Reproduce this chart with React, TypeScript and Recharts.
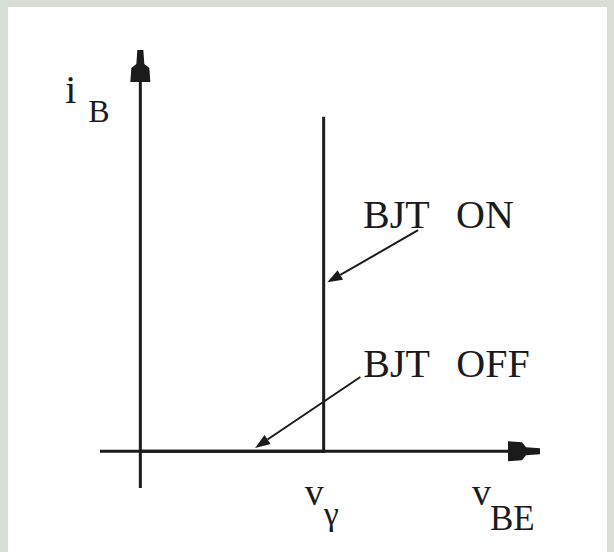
import { LineChart, Line, XAxis, YAxis, ReferenceLine, ReferenceDot } from 'recharts'

// axis ranges (vγ = 1, max iB shown = 1)
const vRange: [number, number] = [-0.22, 2.18]
const iRange: [number, number] = [-0.11, 1.2]

// input characteristic: iB stays 0 below vγ, then rises vertically
const vBE = [0, 1, 1]
const iB = [0, 0, 1]

// annotations: text, arrow start, arrow tip
const noteText = ['BJT ON', 'BJT OFF']
const noteFrom = [[1.515, 0.661], [1.2, 0.222]]
const noteTo = [[1.02, 0.505], [0.626, 0.01]]

// axis labels: main letter, subscript, anchor point
const labelMain = ['i', 'v', 'v']
const labelSub = ['B', 'γ', 'BE']
const labelAt = [[0, 1.2], [1, 0], [2.18, 0]]

const curve = vBE.map((v, i) => ({ vBE: v, iB: iB[i] }))

const INK = '#1b1b1b'
const FONT = 'Liberation Serif'

// pixel offsets of the label glyphs from their anchor
const labelOffsets = [
  { dx: -75, dy: 53, size: 40, sdx: -52, sdy: 72, sub: 32 },
  { dx: -19, dy: 54, size: 38, sdx: 0, sdy: 74, sub: 34 },
  { dx: -68, dy: 54, size: 38, sdx: -50, sdy: 79, sub: 35 },
]
const noteOffsets = [{ dx: -55, dy: -2 }, { dx: 3, dy: 0 }]

const AxisArrow = (p: any) => {
  const { x1, y1, x2, y2 } = p
  const ang = (Math.atan2(y2 - y1, x2 - x1) * 180) / Math.PI
  return (
    <g>
      <line x1={x1} y1={y1} x2={x2} y2={y2} stroke={INK} strokeWidth={3} />
      <polygon
        transform={`translate(${x2},${y2}) rotate(${ang})`}
        points="0,-3 -14,-4 -18,-9 -32,-10 -32,10 -18,9 -14,4 0,3"
        fill={INK}
      />
    </g>
  )
}

const NoteArrow = (p: any) => {
  const { x1, y1, x2, y2 } = p
  const a = Math.atan2(y2 - y1, x2 - x1)
  const len = 15
  const half = 5.5
  const bx = x2 - len * Math.cos(a)
  const by = y2 - len * Math.sin(a)
  const px = -Math.sin(a) * half
  const py = Math.cos(a) * half
  return (
    <g>
      <line x1={x1} y1={y1} x2={bx} y2={by} stroke={INK} strokeWidth={2} />
      <polygon points={`${x2},${y2} ${bx + px},${by + py} ${bx - px},${by - py}`} fill={INK} />
    </g>
  )
}

export default function App() {
  return (
    <div style={{ position: 'fixed', left: 0, top: 0, width: 614, height: 552, background: '#d8ddd5' }}>
      <div style={{ position: 'absolute', left: 8, top: 7, width: 599, height: 545, background: '#fff' }} />
      <div style={{ position: 'absolute', left: 0, top: 0, fontFamily: FONT }}>
        <LineChart
          width={614}
          height={552}
          margin={{ top: 50, right: 74, bottom: 64, left: 100 }}
          style={{ fontFamily: FONT }}
        >
          <XAxis type="number" dataKey="vBE" domain={vRange} allowDataOverflow hide />
          <YAxis type="number" dataKey="iB" domain={iRange} allowDataOverflow hide />

          <ReferenceLine
            segment={[{ x: vRange[0], y: 0 }, { x: vRange[1], y: 0 }]}
            ifOverflow="visible"
            shape={AxisArrow}
          />
          <ReferenceLine
            segment={[{ x: 0, y: iRange[0] }, { x: 0, y: iRange[1] }]}
            ifOverflow="visible"
            shape={AxisArrow}
          />

          <Line
            data={curve}
            dataKey="iB"
            type="linear"
            stroke={INK}
            strokeWidth={3}
            dot={false}
            isAnimationActive={false}
          />

          {noteText.map((t, i) => (
            <ReferenceLine
              key={'arrow' + t}
              segment={[
                { x: noteFrom[i][0], y: noteFrom[i][1] },
                { x: noteTo[i][0], y: noteTo[i][1] },
              ]}
              ifOverflow="visible"
              shape={NoteArrow}
            />
          ))}
          {noteText.map((t, i) => (
            <ReferenceDot
              key={'note' + t}
              x={noteFrom[i][0]}
              y={noteFrom[i][1]}
              r={1}
              ifOverflow="visible"
              shape={(p: any) => (
                <text
                  x={p.cx + noteOffsets[i].dx}
                  y={p.cy + noteOffsets[i].dy}
                  fill={INK}
                  fontFamily={FONT}
                  fontSize={40}
                  wordSpacing={17}
                >
                  {t}
                </text>
              )}
            />
          ))}
          {labelMain.map((m, i) => (
            <ReferenceDot
              key={'label' + i}
              x={labelAt[i][0]}
              y={labelAt[i][1]}
              r={1}
              ifOverflow="visible"
              shape={(p: any) => {
                const o = labelOffsets[i]
                return (
                  <text fill={INK} fontFamily={FONT}>
                    <tspan x={p.cx + o.dx} y={p.cy + o.dy} fontSize={o.size} fontFamily={FONT}>
                      {m}
                    </tspan>
                    <tspan x={p.cx + o.sdx} y={p.cy + o.sdy} fontSize={o.sub} fontFamily={FONT}>
                      {labelSub[i]}
                    </tspan>
                  </text>
                )
              }}
            />
          ))}
        </LineChart>
      </div>
    </div>
  )
}
